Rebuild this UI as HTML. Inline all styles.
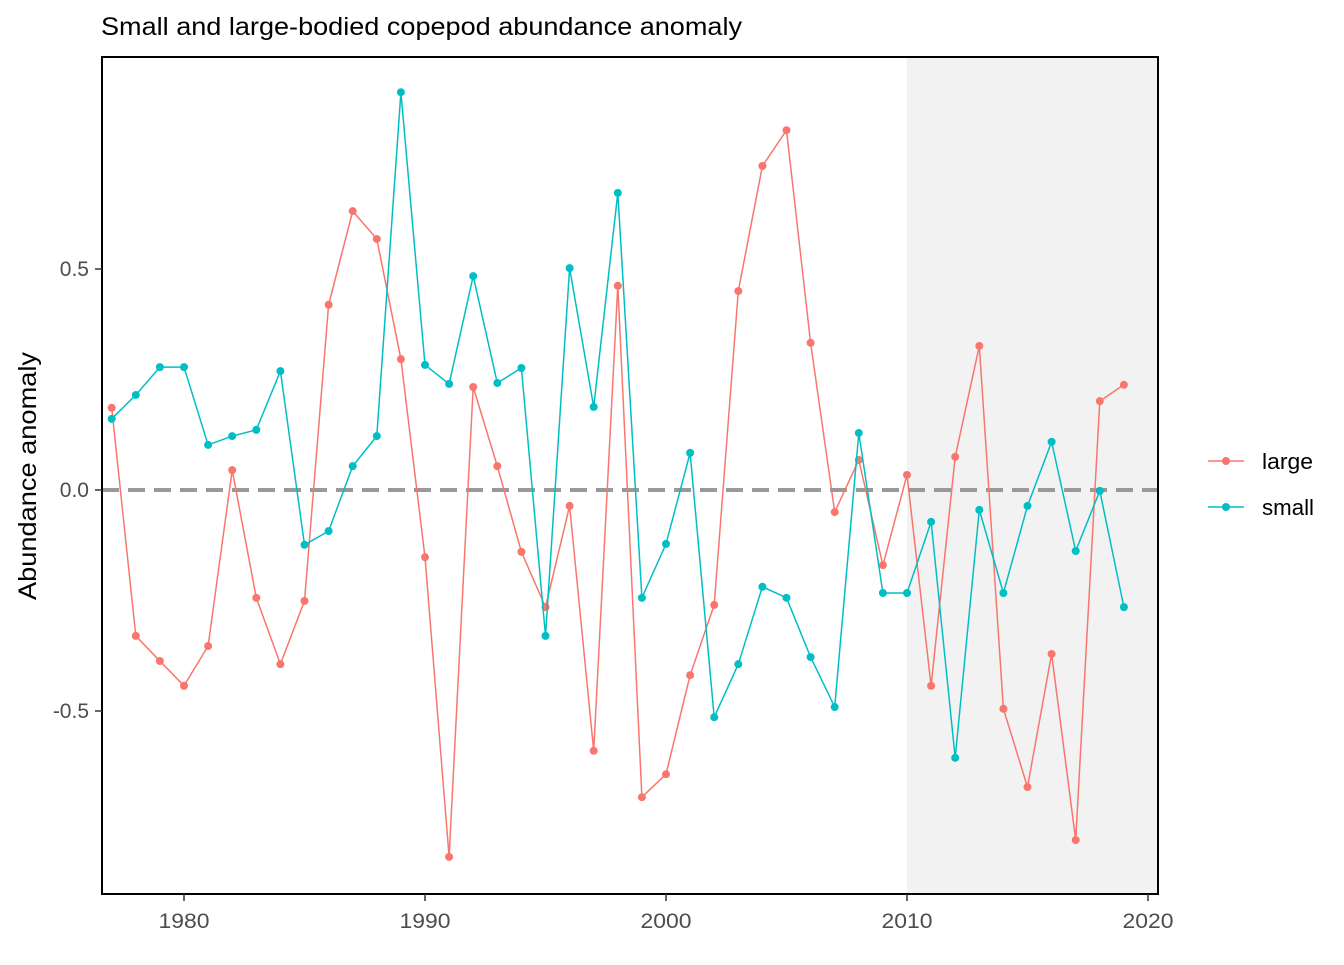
<!DOCTYPE html>
<html><head><meta charset="utf-8"><style>
body{margin:0;background:#fff;font-family:"Liberation Sans",Arial,sans-serif}
svg text{font-family:"Liberation Sans",Arial,sans-serif}
</style></head><body>
<svg id="chart" width="1344" height="960" viewBox="0 0 1344 960">
<text x="101" y="35" font-size="25" textLength="641" lengthAdjust="spacingAndGlyphs" fill="#000">Small and large-bodied copepod abundance anomaly</text>
<rect x="907" y="57" width="251" height="837" fill="#f2f2f2"/>
<line x1="102" y1="490" x2="1158" y2="490" stroke="#999" stroke-width="4" stroke-dasharray="17,9"/>
<g id="series"></g>
<rect x="102" y="57" width="1056" height="837" fill="none" stroke="#000" stroke-width="2"/>
<g id="axes"></g>
<text transform="translate(36,476) rotate(-90)" text-anchor="middle" font-size="25" textLength="248" lengthAdjust="spacingAndGlyphs" fill="#000">Abundance anomaly</text>
<g>
<g>
<line x1="1208" y1="461" x2="1244" y2="461" stroke="#F8766D" stroke-width="1.5"/><circle cx="1226" cy="461" r="4" fill="#F8766D"/>
<text x="1262" y="469" font-size="22" textLength="51" lengthAdjust="spacingAndGlyphs">large</text></g>
<g>
<line x1="1208" y1="507" x2="1244" y2="507" stroke="#00BFC4" stroke-width="1.5"/><circle cx="1226" cy="507" r="4" fill="#00BFC4"/>
<text x="1262" y="515" font-size="22" textLength="52" lengthAdjust="spacingAndGlyphs">small</text></g>
</g>
</svg>
<script>
const years=[1977,1978,1979,1980,1981,1982,1983,1984,1985,1986,1987,1988,1989,1990,1991,1992,1993,1994,1995,1996,1997,1998,1999,2000,2001,2002,2003,2004,2005,2006,2007,2008,2009,2010,2011,2012,2013,2014,2015,2016,2017,2018,2019];
const largeVals=[0.186,-0.330,-0.387,-0.443,-0.353,0.045,-0.244,-0.394,-0.251,0.419,0.631,0.568,0.296,-0.152,-0.830,0.233,0.054,-0.140,-0.265,-0.036,-0.590,0.462,-0.695,-0.643,-0.419,-0.260,0.450,0.733,0.814,0.333,-0.050,0.068,-0.170,0.034,-0.443,0.075,0.326,-0.495,-0.672,-0.371,-0.792,0.201,0.238];
const smallVals=[0.161,0.215,0.278,0.278,0.102,0.122,0.136,0.269,-0.124,-0.093,0.054,0.122,0.900,0.283,0.240,0.484,0.242,0.276,-0.330,0.502,0.188,0.672,-0.244,-0.122,0.084,-0.514,-0.394,-0.219,-0.244,-0.378,-0.491,0.129,-0.233,-0.233,-0.072,-0.606,-0.045,-0.233,-0.036,0.109,-0.138,-0.002,-0.265];
const xTicks=[1980,1990,2000,2010,2020];
const yTicks=[-0.5,0,0.5];
const yTickLabels=["-0.5","0.0","0.5"];
const X=y=>184+(y-1980)*24.1;
const Y=v=>490-v*442;
const NS="http://www.w3.org/2000/svg";
const g=document.getElementById('series');
function draw(vals,color,name){
  const p=document.createElementNS(NS,'polyline');
  p.setAttribute('points',years.map((yr,i)=>X(yr)+','+Y(vals[i])).join(' '));
  p.setAttribute('fill','none');p.setAttribute('stroke',color);p.setAttribute('stroke-width','1.5');
  
  
  g.appendChild(p);
  years.forEach((yr,i)=>{
    const c=document.createElementNS(NS,'circle');
    c.setAttribute('cx',X(yr));c.setAttribute('cy',Y(vals[i]));c.setAttribute('r','4');c.setAttribute('fill',color);
    
    
    g.appendChild(c);
  });
}
draw(largeVals,'#F8766D','large');
draw(smallVals,'#00BFC4','small');
const ax=document.getElementById('axes');
xTicks.forEach(t=>{
  const l=document.createElementNS(NS,'line');
  l.setAttribute('x1',X(t));l.setAttribute('x2',X(t));l.setAttribute('y1',894);l.setAttribute('y2',901);l.setAttribute('stroke','#333');l.setAttribute('stroke-width','1.5');
  
  
  ax.appendChild(l);
  const tx=document.createElementNS(NS,'text');
  tx.setAttribute('x',X(t));tx.setAttribute('y',928);tx.setAttribute('text-anchor','middle');tx.setAttribute('font-size','21');tx.setAttribute('fill','#4d4d4d');
  tx.setAttribute('textLength','51');tx.setAttribute('lengthAdjust','spacingAndGlyphs');
  tx.textContent=t;
  
  
  ax.appendChild(tx);
});
yTicks.forEach((t,i)=>{
  const l=document.createElementNS(NS,'line');
  l.setAttribute('x1',95);l.setAttribute('x2',102);l.setAttribute('y1',Y(t));l.setAttribute('y2',Y(t));l.setAttribute('stroke','#333');l.setAttribute('stroke-width','1.5');
  
  
  ax.appendChild(l);
  const tx=document.createElementNS(NS,'text');
  tx.setAttribute('x',89);tx.setAttribute('y',Y(t)+7);tx.setAttribute('text-anchor','end');tx.setAttribute('font-size','21');tx.setAttribute('fill','#4d4d4d');
  tx.textContent=yTickLabels[i];
  
  
  ax.appendChild(tx);
});
</script>
</body></html>
